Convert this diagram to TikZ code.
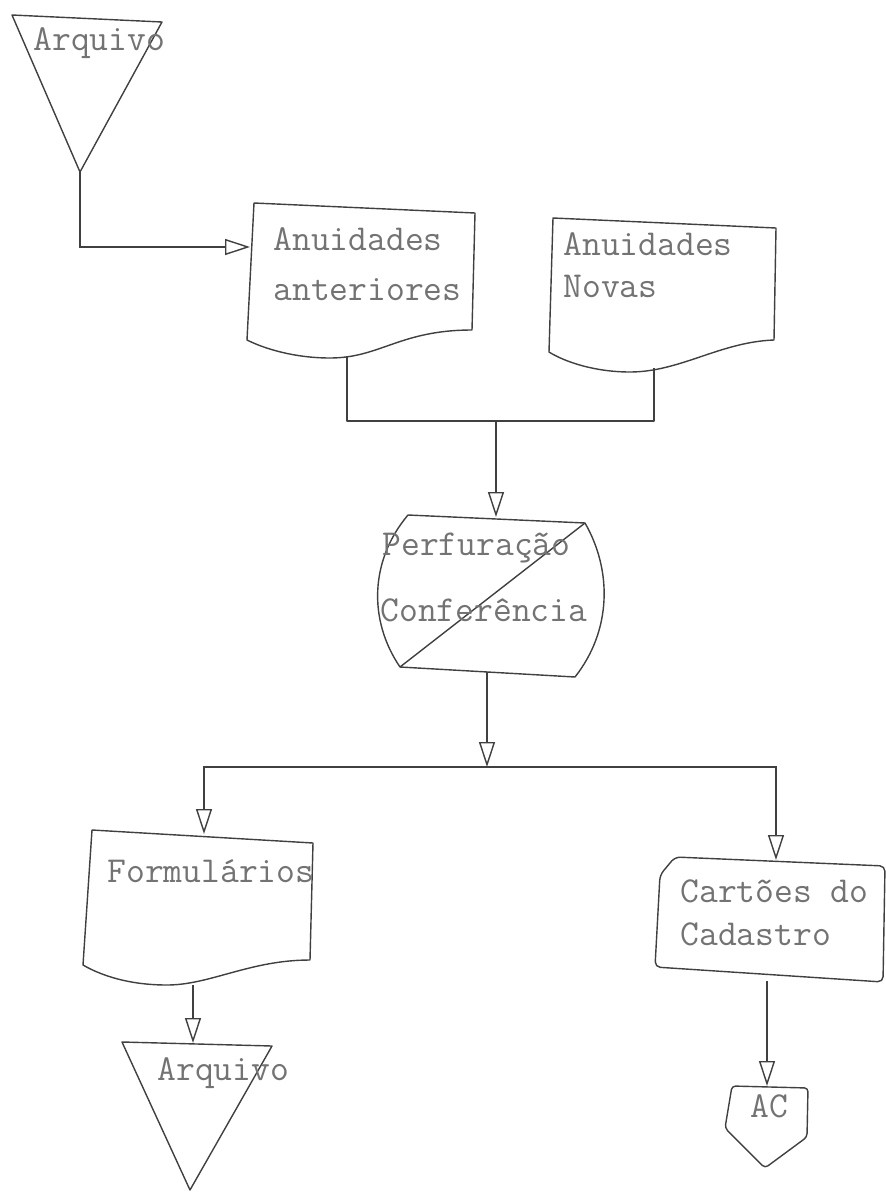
\documentclass[tikz,border=0pt]{standalone}
\usepackage{fontspec}
\usetikzlibrary{arrows.meta}
\begin{document}
\begin{tikzpicture}[x=0.2mm,y=-0.2mm,
  sym/.style={draw=black!75,line width=0.8pt,line join=round},
  flow/.style={draw=black!75,line width=0.8pt,-{Triangle[open,length=5mm,width=3.2mm]}},
  txt/.style={anchor=base west,inner sep=0pt,text=black!55,font=\ttfamily\fontsize{20.8}{25}\selectfont}]
  \useasboundingbox (0,0) rectangle (886,1192);

  \draw[sym] (12,15) -- (162,22) -- (80,172) -- cycle;
  \node[txt] (arq1) at (33,50) {Arquivo};

  \draw[sym] (254,203) -- (475,213) -- (472,330)
    .. controls (400,330) and (380,358) .. (330,358)
    .. controls (295,358) and (265,349) .. (247,340) -- cycle;
  \node[txt] (ant1) at (273,250) {Anuidades};
  \node[txt] (ant2) at (273,300) {anteriores};

  \draw[sym] (553,218) -- (776,228) -- (774,340)
    .. controls (720,342) and (680,372) .. (630,372)
    .. controls (595,372) and (565,362) .. (549,352) -- cycle;
  \node[txt] (nov1) at (563,255) {Anuidades};
  \node[txt] (nov2) at (563,297) {Novas};

  \draw[sym] (408,515) -- (585,523)
    .. controls (612,570) and (612,630) .. (575,677) -- (400,667)
    .. controls (368,620) and (370,560) .. (408,515) -- cycle;
  \draw[sym] (585,523) -- (400,667);
  \node[txt] (perf1) at (382,555) {Perfuração};
  \node[txt] (perf2) at (380,621) {Conferência};

  \draw[sym] (92,830) -- (313,843) -- (310,960)
    .. controls (250,960) and (210,985) .. (167,985)
    .. controls (130,985) and (102,976) .. (83,965) -- cycle;
  \node[txt] (form) at (107,882) {Formulários};

  \draw[sym,rounded corners=3pt] (675,857) -- (885,866) -- (883,982)
    -- (655,967) -- (660,875) -- cycle;
  \node[txt] (car1) at (680,902) {Cartões do};
  \node[txt] (car2) at (680,945) {Cadastro};

  \draw[sym] (122,1042) -- (272,1046) -- (190,1190) -- cycle;
  \node[txt] (arq2) at (157,1080) {Arquivo};

  \draw[sym,rounded corners=2pt] (732,1086) -- (808,1088) -- (807,1137)
    -- (765,1168) -- (725,1128) -- cycle;
  \node[txt] (ac) at (750,1117) {AC};

  \coordinate (arq1-s) at (80,172);
  \coordinate (ant-w) at (250,247);
  \coordinate (ant-s) at (347,357);
  \coordinate (nov-s) at (654,368);
  \coordinate (join) at (496,421);
  \coordinate (perf-n) at (496,517);
  \coordinate (perf-s) at (487,672);
  \coordinate (split) at (487,767);
  \coordinate (form-n) at (204,834);
  \coordinate (card-n) at (776,860);
  \coordinate (form-s) at (193,985);
  \coordinate (arq2-n) at (193,1043);
  \coordinate (card-s) at (767,981);
  \coordinate (ac-n) at (767,1086);

  \draw[flow] (arq1-s) |- (ant-w);
  \draw[sym] (ant-s) |- (join) -| (nov-s);
  \draw[flow] (join) -- (perf-n);
  \draw[flow] (perf-s) -- (split);
  \draw[flow] (split) -| (form-n);
  \draw[flow] (split) -| (card-n);
  \draw[flow] (form-s) -- (arq2-n);
  \draw[flow] (card-s) -- (ac-n);
\end{tikzpicture}
\end{document}
